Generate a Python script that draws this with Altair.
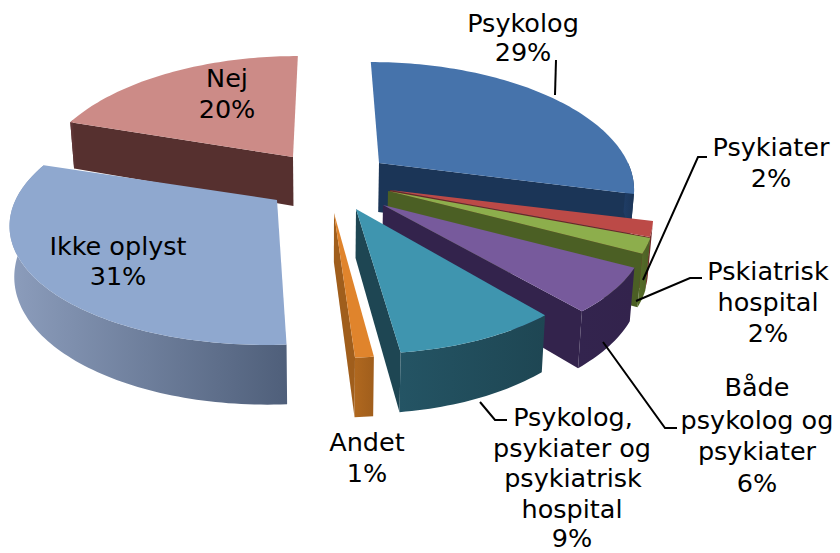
import math
import altair as alt
import pandas as pd

names = ["Psykolog", "Psykiater", "Pskiatrisk hospital", "Både psykolog og psykiater",
         "Psykolog, psykiater og psykiatrisk hospital", "Andet", "Ikke oplyst", "Nej"]
shares = [29, 2, 2, 6, 9, 1, 31, 20]

top_colors = ["#4673AB", "#BC4A47", "#8DAE4C", "#775A9C", "#3F95AF", "#E0842C", "#8FA8CF", "#CC8B87"]
wall_light = ["#1F3D66", "#7C2D2B", "#586F2A", "#33244E", "#245464", "#B0681F", "#8C9DBC", "#64383A"]
wall_dark = ["#1B3557", "#6A2826", "#4B5F24", "#33234C", "#1E4653", "#A05E1C", "#4F5F7A", "#56302F"]

# layout of the exploded slices (reference pixels)
apex_x = [379, 390, 388, 383, 356, 334, 277, 293]
apex_y = [163, 190, 191, 205, 209, 213, 200, 157]
x_stretch = [1.0, 1.03, 1.04, 1.03, 1.0, 1.0, 1.05, 1.0]
paint_order = [7, 6, 0, 1, 2, 3, 4, 5]
RADIUS_X, RADIUS_Y, PERSP, VANISH_X, DEPTH = 249, 119, 0.179, 325, 49

label_text = ["Psykolog", "29%", "Psykiater", "2%", "Pskiatrisk", "hospital", "2%",
              "Både", "psykolog og", "psykiater", "6%",
              "Psykolog,", "psykiater og", "psykiatrisk", "hospital", "9%",
              "Andet", "1%", "Ikke oplyst", "31%", "Nej", "20%"]
label_x = [523, 523, 771, 771, 768, 768, 768, 757, 757, 757, 757,
           573, 572, 573, 572, 572, 367, 367, 118, 118, 227, 227]
label_y = [24, 53, 148, 179, 272, 303, 334, 388, 421, 452, 484,
           418, 449, 479, 510, 539, 443, 474, 247, 277, 79, 110]

leaders = [
    [(556, 60), (555, 95)],
    [(707, 157), (698, 157), (643, 280)],
    [(702, 278), (690, 278), (636, 301)],
    [(677, 428), (665, 428), (603, 342)],
    [(507, 420), (495, 420), (480, 402)],
]

X = alt.X("x:Q", axis=None, scale=alt.Scale(domain=[8, 832], nice=False, zero=False))
Y = alt.Y("y:Q", axis=None, scale=alt.Scale(domain=[553, 8], nice=False, zero=False))


def project(i, deg, r=1.0):
    t = math.radians(deg)
    u, v = math.sin(t) * r, -math.cos(t) * r
    s = 1 / (1 - PERSP * v)
    x = VANISH_X + (apex_x[i] - VANISH_X + RADIUS_X * x_stretch[i] * u) * s
    y = apex_y[i] + RADIUS_Y * v * s
    return x, y, s


def lower(pt):
    x, y, s = pt
    return VANISH_X + (x - VANISH_X) * 0.985, y + DEPTH * s


def poly(points, fill):
    rows = [{"x": p[0], "y": p[1], "k": n} for n, p in enumerate(points + points[:1])]
    return (alt.Chart(pd.DataFrame(rows))
            .mark_line(fill=fill, stroke="#00000000", strokeWidth=0, interpolate="linear")
            .encode(x=X, y=Y, order=alt.Order("k:Q")))


def gradient(a, b):
    return alt.LinearGradient(gradient="linear", x1=0, x2=1, y1=0, y2=0,
                              stops=[alt.GradientStop(color=a, offset=0),
                                     alt.GradientStop(color=b, offset=1)])


def faces_viewer(normal_deg):
    return -math.cos(math.radians(normal_deg)) > 0.01


starts = []
acc = 0
for v in shares:
    starts.append(acc)
    acc += v * 3.6

layers = []
for i in paint_order:
    a0 = starts[i]
    a1 = a0 + shares[i] * 3.6
    n = max(4, int(shares[i] * 3))
    arc = [project(i, a0 + (a1 - a0) * j / n) for j in range(n + 1)]
    hub = (apex_x[i], apex_y[i], 1.0)
    hub_low = lower(hub)
    # radial walls that face the viewer
    for edge, normal in ((arc[0], a0 - 90), (arc[-1], a1 + 90)):
        if faces_viewer(normal):
            layers.append(poly([hub[:2], edge[:2], lower(edge), hub_low], wall_dark[i]))
    # outer wall, only its front facing part
    front = [p for p, j in zip(arc, range(n + 1)) if 90 <= a0 + (a1 - a0) * j / n <= 270 + 20]
    if len(front) > 1:
        fill = gradient(wall_light[i], wall_dark[i])
        layers.append(poly([p[:2] for p in front] + [lower(p) for p in reversed(front)], fill))
    layers.append(poly([hub[:2]] + [p[:2] for p in arc], top_colors[i]))

for seg in leaders:
    df = pd.DataFrame([{"x": p[0], "y": p[1], "k": n} for n, p in enumerate(seg)])
    layers.append(alt.Chart(df).mark_line(color="black", strokeWidth=2)
                  .encode(x=X, y=Y, order=alt.Order("k:Q")))

labels = pd.DataFrame({"x": label_x, "y": label_y, "t": label_text})
layers.append(alt.Chart(labels)
              .mark_text(font="DejaVu Sans", fontSize=25.5, color="black", align="center", baseline="middle")
              .encode(x=X, y=Y, text="t:N"))

chart = (alt.layer(*layers)
         .properties(width=824, height=545, padding=0,
                     autosize=alt.AutoSizeParams(type="none"),
                     background="white")
         .configure_view(stroke=None))
chart.save("out.html", embed_options={"renderer": "svg", "actions": False})
